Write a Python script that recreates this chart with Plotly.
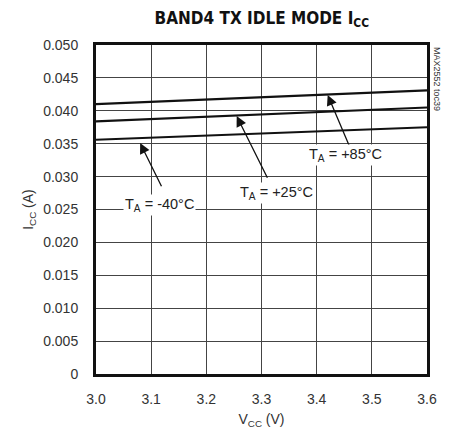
import plotly.graph_objects as go

# supply voltage (V)
vcc = [3.0, 3.3, 3.6]

# supply current (A) per ambient temperature
icc_85 = [0.0410, 0.0420, 0.0431]
icc_25 = [0.0384, 0.0394, 0.0405]
icc_m40 = [0.0356, 0.0365, 0.0375]

x_ticks = [3.0, 3.1, 3.2, 3.3, 3.4, 3.5, 3.6]
y_ticks = [0, 0.005, 0.010, 0.015, 0.020, 0.025, 0.030, 0.035, 0.040, 0.045, 0.050]
y_tick_text = ['0', '0.005', '0.010', '0.015', '0.020', '0.025', '0.030',
               '0.035', '0.040', '0.045', '0.050']

FONT = 'Liberation Sans, Arial, sans-serif'
TITLE_FONT = 'DejaVu Sans Condensed, sans-serif'

fig = go.Figure()

for ys in (icc_85, icc_25, icc_m40):
    fig.add_trace(go.Scatter(
        x=vcc, y=ys, mode='lines',
        line=dict(color='#111111', width=2.2),
        showlegend=False, hoverinfo='skip',
    ))

# arrows (tip, tail) and labels
arrows = [
    ((3.42, 0.0424), (3.46, 0.0345)),
    ((3.255, 0.0392), (3.312, 0.0296)),
    ((3.080, 0.0351), (3.120, 0.0283)),
]
for (tx, ty), (sx, sy) in arrows:
    fig.add_annotation(
        x=tx, y=ty, ax=sx, ay=sy, xref='x', yref='y', axref='x', ayref='y',
        text='', showarrow=True, arrowhead=2, arrowsize=1.6, arrowwidth=1.3,
        arrowcolor='#111111',
    )

labels = [
    (3.452, 0.0333, 'T<sub>A</sub> = +85°C'),
    (3.328, 0.0275, 'T<sub>A</sub> = +25°C'),
    (3.115, 0.0257, 'T<sub>A</sub> = -40°C'),
]
for lx, ly, txt in labels:
    fig.add_annotation(
        x=lx, y=ly, xref='x', yref='y', text=txt, showarrow=False,
        bgcolor='white', borderpad=1,
        font=dict(family=FONT, size=14.5, color='#222222'),
    )

fig.add_annotation(
    x=1.030, y=1.0, xref='paper', yref='paper', text='MAX2552 toc39',
    textangle=90, showarrow=False, xanchor='center', yanchor='top',
    font=dict(family=FONT, size=9, color='#333333'),
)

axis_common = dict(
    showline=True, linecolor='#111111', linewidth=3, mirror=True,
    showgrid=True, gridcolor='#444444', gridwidth=1, zeroline=False,
    ticks='', automargin=False,
    tickfont=dict(family=FONT, size=14, color='#333333'),
)

# page body has an 8px margin, so the figure is a bit smaller than the window
fig.update_layout(
    width=454, height=432,
    margin=dict(l=88, r=35, t=37, b=66),
    plot_bgcolor='white', paper_bgcolor='white',
    title=dict(
        text='<b>BAND4 TX IDLE MODE I<sub>CC</sub></b>',
        x=0.559, xanchor='center', y=0.977, yanchor='middle',
        font=dict(family=TITLE_FONT, size=17, color='#111111'),
    ),
    xaxis=dict(
        range=[3.0, 3.6], tickvals=x_ticks, tickformat='.1f',
        ticklabelstandoff=10,
        title=dict(text='V<sub>CC</sub> (V)', standoff=9,
                   font=dict(family=FONT, size=14, color='#333333')),
        **axis_common,
    ),
    yaxis=dict(
        range=[0, 0.050], tickvals=y_ticks, ticktext=y_tick_text,
        ticklabelstandoff=12,
        title=dict(text='I<sub>CC</sub> (A)', standoff=7,
                   font=dict(family=FONT, size=14, color='#333333')),
        **axis_common,
    ),
)

fig.write_html('out.html')
